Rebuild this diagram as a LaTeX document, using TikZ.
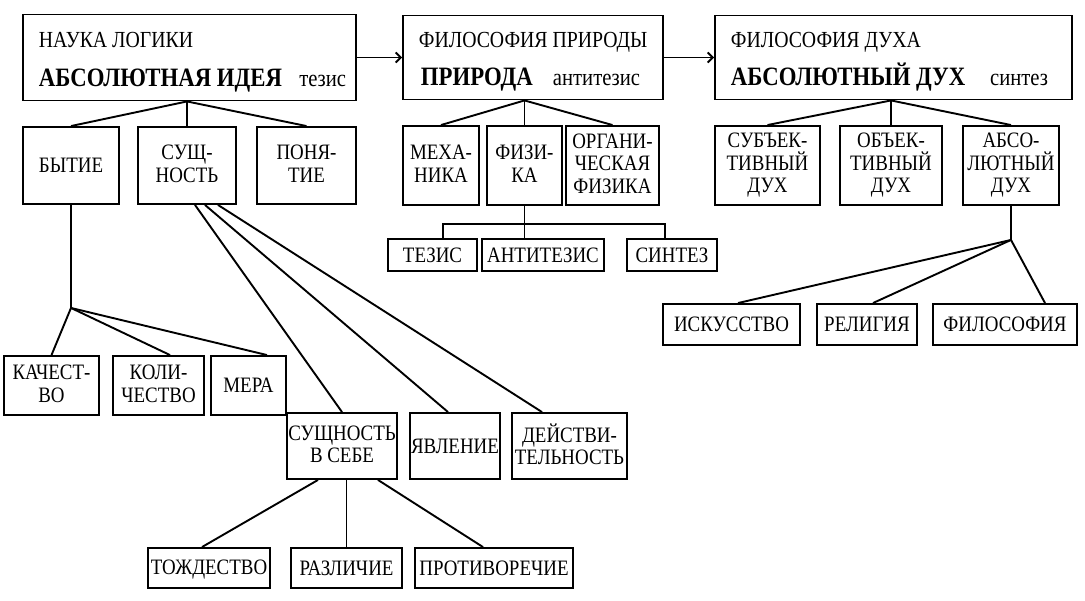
\documentclass[tikz,border=0pt]{standalone}
\usepackage{fontspec}
\usetikzlibrary{arrows.meta}
\setmainfont[FakeStretch=0.86]{Liberation Serif}
\newcommand\boxstrut{\rule[-4pt]{0pt}{22.6pt}}
\begin{document}
\begin{tikzpicture}[x=1pt, y=-1pt, line width=1.9pt, >={Straight Barb[length=5pt,width=10pt]},
  box/.style={draw, inner sep=0pt, align=center, minimum width=#1, font=\fontsize{22}{22.5}\selectfont,
    execute at begin node=\boxstrut, execute at end node=\boxstrut},
  head/.style={inner sep=0pt, font=\fontsize{23}{24}\selectfont},
  big/.style={inner sep=0pt, font=\bfseries\fontsize{26.5}{28}\selectfont},
  note/.style={inner sep=0pt, font=\fontsize{24}{25}\selectfont}]
\useasboundingbox (0,0) rectangle (1085,601);
% top row
\node[box=333pt, minimum height=86pt] (nauka) at (189.5,57.5) {};
\node[box=260pt, minimum height=84pt] (priroda) at (533,57.5) {};
\node[box=357pt, minimum height=84pt] (duh) at (893.5,57.5) {};
\node[head, anchor=base west] (nauka-t) at (38,48) {НАУКА ЛОГИКИ};
\node[big, anchor=base west] (nauka-b) at (38,87) {АБСОЛЮТНАЯ ИДЕЯ};
\node[note, anchor=base east] (nauka-n) at (347,87) {тезис};
\node[head, anchor=base west] (priroda-t) at (418,48) {ФИЛОСОФИЯ ПРИРОДЫ};
\node[big, anchor=base west] (priroda-b) at (420,86) {ПРИРОДА};
\node[note, anchor=base east] (priroda-n) at (641,86) {антитезис};
\node[head, anchor=base west] (duh-t) at (730,48) {ФИЛОСОФИЯ ДУХА};
\node[big, anchor=base west] (duh-b) at (730,86) {АБСОЛЮТНЫЙ ДУХ};
\node[note, anchor=base east] (duh-n) at (1049,86) {синтез};
\draw[->] (nauka) -- (priroda);
\draw[->] (priroda) -- (duh);
% second row
\node[box=96pt, minimum height=77pt] (bytie) at (71,165.5) {БЫТИЕ};
\node[box=98pt, minimum height=77pt] (sush) at (187,165.5) {СУЩ-\\НОСТЬ};
\node[box=99pt, minimum height=77pt] (ponya) at (306.5,165.5) {ПОНЯ-\\ТИЕ};
\node[box=76pt, minimum height=79pt] (meh) at (441,165.5) {МЕХА-\\НИКА};
\node[box=75pt, minimum height=79pt] (fizika) at (524.5,165.5) {ФИЗИ-\\КА};
\node[box=93pt, minimum height=79pt] (organ) at (612.5,165.5) {ОРГАНИ-\\ЧЕСКАЯ\\ФИЗИКА};
\node[box=105pt, minimum height=79pt] (subj) at (767.5,165.5) {СУБЪЕК-\\ТИВНЫЙ\\ДУХ};
\node[box=102pt, minimum height=79pt] (obj) at (891,165.5) {ОБЪЕК-\\ТИВНЫЙ\\ДУХ};
\node[box=96pt, minimum height=79pt] (abs) at (1011,165.5) {АБСО-\\ЛЮТНЫЙ\\ДУХ};
\draw (bytie.north) -- (sush.north |- nauka.south) -- (ponya.north);
\draw (sush.north) -- (sush.north |- nauka.south);
\draw (meh.north) -- (fizika.north |- priroda.south) -- (organ.north);
\draw (fizika.north) -- (fizika.north |- priroda.south);
\draw (subj.north) -- (obj.north |- duh.south) -- (abs.north);
\draw (obj.north) -- (obj.north |- duh.south);
% physics
\node[box=89pt, minimum height=32pt] (tezis) at (432.5,255) {ТЕЗИС};
\node[box=122pt, minimum height=32pt] (antitezis) at (543,255) {АНТИТЕЗИС};
\node[box=90pt, minimum height=32pt] (sintez) at (672,255) {СИНТЕЗ};
\coordinate (fizj) at ([yshift=-18pt]fizika.south);
\draw (fizika.south) -- (fizj);
\draw ([xshift=10.5pt]tezis.north) |- (fizj) -| ([xshift=-7pt]sintez.north);
\draw (fizj) -- (fizj |- antitezis.north);
% absolute spirit
\node[box=137pt, minimum height=41pt] (iskusstvo) at (731.5,324.5) {ИСКУССТВО};
\node[box=100pt, minimum height=41pt] (religia) at (867,324.5) {РЕЛИГИЯ};
\node[box=144pt, minimum height=41pt] (filosofia) at (1005,324.5) {ФИЛОСОФИЯ};
\coordinate (absj) at ([yshift=-34pt]abs.south);
\draw (abs.south) -- (absj);
\draw ([xshift=6.5pt]iskusstvo.north) -- (absj) -- ([xshift=40pt]filosofia.north);
\draw ([xshift=6pt]religia.north) -- (absj);
% being
\node[box=95pt, minimum height=59pt] (kachestvo) at (51.5,385.5) {КАЧЕСТ-\\ВО};
\node[box=91pt, minimum height=59pt] (kolichestvo) at (158.5,385.5) {КОЛИ-\\ЧЕСТВО};
\node[box=75pt, minimum height=59pt] (mera) at (248.5,385.5) {МЕРА};
\coordinate (bytj) at ([yshift=-103pt]bytie.south);
\draw (bytie.south) -- (bytj);
\draw (kachestvo.north) -- (bytj) -- ([xshift=11.5pt]kolichestvo.north);
\draw (bytj) -- ([xshift=18.5pt]mera.north);
% essence
\node[box=110pt, minimum height=66pt] (vsebe) at (342,446) {СУЩНОСТЬ\\В СЕБЕ};
\node[box=90pt, minimum height=66pt] (yavlenie) at (455,446) {ЯВЛЕНИЕ};
\node[box=115pt, minimum height=66pt] (deistv) at (569.5,446) {ДЕЙСТВИ-\\ТЕЛЬНОСТЬ};
\draw ([xshift=8pt]sush.south) -- (vsebe.north);
\draw ([xshift=18pt]sush.south) -- ([xshift=-7pt]yavlenie.north);
\draw ([xshift=31pt]sush.south) -- ([xshift=-27.5pt]deistv.north);
\node[box=122pt, minimum height=40pt] (tozhd) at (209,568) {ТОЖДЕСТВО};
\node[box=111pt, minimum height=40pt] (razlich) at (346.5,568) {РАЗЛИЧИЕ};
\node[box=158pt, minimum height=40pt] (protiv) at (494,568) {ПРОТИВОРЕЧИЕ};
\draw ([xshift=-24pt]vsebe.south) -- ([xshift=-7pt]tozhd.north);
\draw (razlich.north) -- (razlich.north |- vsebe.south);
\draw ([xshift=36pt]vsebe.south) -- ([xshift=-11pt]protiv.north);
\end{tikzpicture}
\end{document}
